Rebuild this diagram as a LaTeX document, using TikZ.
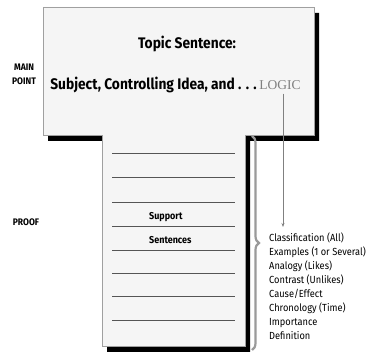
\documentclass[tikz,border=0pt]{standalone}
\usepackage{fontspec}
\setmainfont{Fira Sans}
\newfontfamily\headfont[FakeStretch=0.9]{Fira Sans}
\newfontfamily\listfont[FakeStretch=0.9]{Fira Sans}
\newfontfamily\logicfont{Liberation Serif}
\usetikzlibrary{arrows.meta,decorations.pathreplacing}
\definecolor{boxfill}{HTML}{F5F5F5}
\definecolor{boxline}{HTML}{A0A0A0}
\definecolor{ruleline}{HTML}{555555}
\definecolor{bracecol}{HTML}{9A9A9A}

\begin{document}
\begin{tikzpicture}[x=1pt,y=-1pt,
		sidelabel/.style={font=\headfont\bfseries\fontsize{9.5}{14}\selectfont, align=center, inner sep=0pt},
		heading/.style={font=\headfont\bfseries\fontsize{15.3}{17}\selectfont, inner sep=0pt},
		support/.style={font=\headfont\bfseries\fontsize{10}{11}\selectfont, inner sep=0pt, anchor=west}]
		\useasboundingbox (0,0) rectangle (373,352);
		
		% T-Form mit Schatten
		\fill[black] (48,13) -- (319,13) -- (319,141) -- (250,141) -- (250,352) -- (107,352) -- (107,141) -- (48,141) -- cycle;
		\filldraw[fill=boxfill, draw=boxline, line width=0.8pt] (43,7) -- (314,7) -- (314,135) -- (245,135) -- (245,346) -- (102,346) -- (102,135) -- (43,135) -- cycle;
		
		% Linien im Stamm
		\foreach \y in {153,177,202,226,250,273,296,320}
			\draw[ruleline, line width=0.7pt] (112,\y) -- (235,\y);
		
		% Texte oben
		\node[heading] (topic) at (187,44) {Topic Sentence:};
		\node[heading, anchor=east] (subject) at (257,85) {Subject, Controlling Idea, and . . .};
		\node[font=\logicfont\fontsize{13.5}{16}\selectfont, text=gray, inner sep=0pt, anchor=west] (logic) at (subject.east) {\,LOGIC};
		\node[sidelabel] (mainpt) at (24,74) {MAIN\\POINT};
		\node[sidelabel] (proof) at (26,222) {PROOF};
		
		% Stamm
		\node[support] (supp) at (149,217) {Support};
		\node[support] (sent) at (149,240) {Sentences};
		
		% Klammer und Liste
		\draw[bracecol, line width=2.2pt, decorate, decoration={brace, amplitude=7pt}] (252,136) -- (252,350);
		\node[font=\listfont\fontsize{10.3}{13.9}\selectfont, align=left, anchor=north west, inner sep=0pt] (list) at (269,233) {Classification (All)\\Examples (1 or Several)\\Analogy (Likes)\\Contrast (Unlikes)\\Cause/Effect\\Chronology (Time)\\Importance\\Definition};
		\coordinate (arrowend) at (283,227);
		\draw[gray, line width=0.8pt, -{Stealth[length=4pt, width=3pt]}] (logic.south -| arrowend) ++(0,4) -- (arrowend);
	\end{tikzpicture}
\end{document}
